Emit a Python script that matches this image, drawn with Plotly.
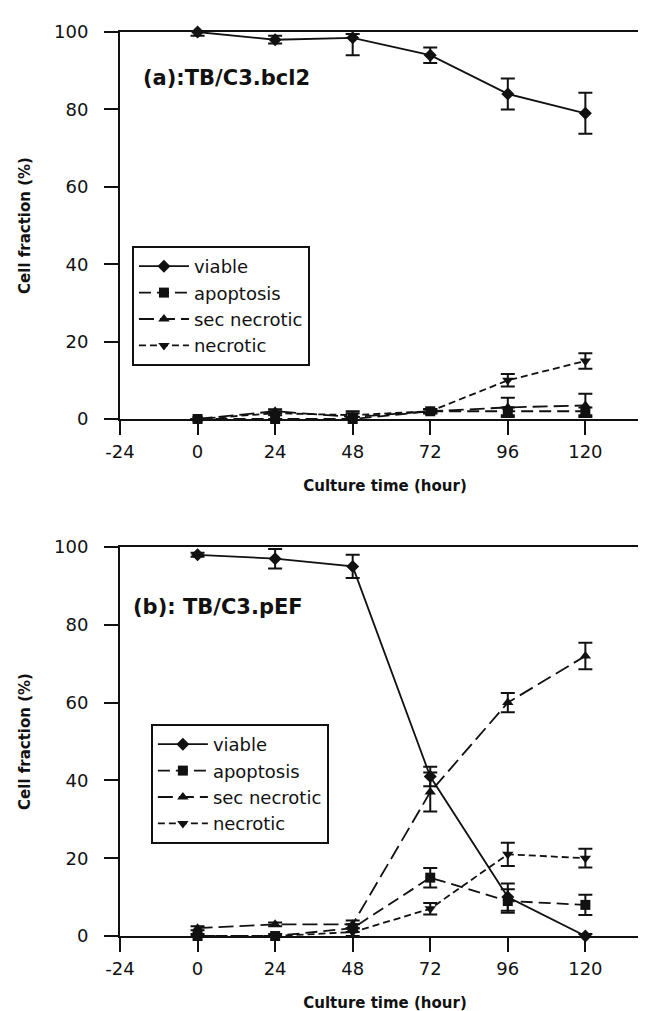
import plotly.graph_objects as go

# ---------------- data ----------------
hours = [0, 24, 48, 72, 96, 120]
series_names = ["viable", "apoptosis", "sec necrotic", "necrotic"]

# Panel (a): TB/C3.bcl2
a_viable = [100, 98, 98.5, 94, 84, 79]
a_viable_err_plus = [0.5, 1, 1, 2, 4, 5.3]
a_viable_err_minus = [1, 1, 4.5, 2, 4, 5.3]
a_apoptosis = [0, 0, 0, 2, 2, 2]
a_apoptosis_err = [0, 0, 0.5, 0.5, 1, 1]
a_secnecrotic = [0, 2, 0.5, 2, 3, 3.5]
a_secnecrotic_err = [0, 0.5, 1.5, 0.5, 2.5, 3]
a_necrotic = [0, 1.5, 1, 2, 10, 15]
a_necrotic_err = [0, 0.5, 0.5, 0.5, 1.6, 2]

# Panel (b): TB/C3.pEF
b_viable = [98, 97, 95, 41, 10, 0]
b_viable_err = [0.5, 2.5, 3, 2.5, 3.5, 0.5]
b_apoptosis = [0, 0, 2, 15, 9, 8]
b_apoptosis_err = [0, 0, 1, 2.5, 3, 2.6]
b_secnecrotic = [2, 3, 3, 37, 60, 72]
b_secnecrotic_err = [0.5, 0.5, 1, 5, 2.5, 3.4]
b_necrotic = [0, 0, 1, 7, 21, 20]
b_necrotic_err = [0.5, 0.5, 1, 1.5, 3, 2.4]

x_ticks = [-24, 0, 24, 48, 72, 96, 120]
x_ticktext = ["-24", "0", "24", "48", "72", "96", "120"]
y_ticks = [0, 20, 40, 60, 80, 100]
panel_labels = ["(a):TB/C3.bcl2", "(b): TB/C3.pEF"]
x_title = "Culture time (hour)"
y_title = "Cell fraction (%)"

# ---------------- styles ----------------
INK = "#111111"
FONT = "DejaVu Sans"
styles = {
    "viable": dict(dash="solid", symbol="diamond"),
    "apoptosis": dict(dash="12px,6px", symbol="square"),
    "sec necrotic": dict(dash="15px,6px", symbol="triangle-up"),
    "necrotic": dict(dash="7px,4px", symbol="triangle-down"),
}

fig = go.Figure()

def add_series(name, x, y, eplus, eminus, xa, ya, legend):
    st = styles[name]
    fig.add_trace(go.Scatter(
        x=x, y=y, name=name, mode="lines+markers",
        xaxis=xa, yaxis=ya, legend=legend,
        line=dict(color=INK, width=1.8, dash=st["dash"]),
        marker=dict(symbol=st["symbol"], size=10, color=INK),
        error_y=dict(type="data", symmetric=False, array=eplus, arrayminus=eminus,
                     color=INK, thickness=2, width=7),
        cliponaxis=False,
    ))

top = [
    ("viable", a_viable, a_viable_err_plus, a_viable_err_minus),
    ("apoptosis", a_apoptosis, a_apoptosis_err, a_apoptosis_err),
    ("sec necrotic", a_secnecrotic, a_secnecrotic_err, a_secnecrotic_err),
    ("necrotic", a_necrotic, a_necrotic_err, a_necrotic_err),
]
bottom = [
    ("viable", b_viable, b_viable_err, b_viable_err),
    ("apoptosis", b_apoptosis, b_apoptosis_err, b_apoptosis_err),
    ("sec necrotic", b_secnecrotic, b_secnecrotic_err, b_secnecrotic_err),
    ("necrotic", b_necrotic, b_necrotic_err, b_necrotic_err),
]
for name, y, ep, em in top:
    add_series(name, hours, y, ep, em, "x", "y", "legend")
for name, y, ep, em in bottom:
    add_series(name, hours, y, ep, em, "x2", "y2", "legend2")

# ---------------- layout ----------------
W, H = 646, 1011
ML, MR, MT, MB = 112, 2, 24, 83
plot_h = H - MT - MB
top_y0_px, top_y1_px = 411, 24
bot_y0_px, bot_y1_px = 928, 539
def yfrac(px):
    return (H - MB - px) / plot_h

tick_font = dict(family=FONT, size=18, color=INK)
title_font = dict(family=FONT, size=15, color=INK, weight="bold")

def xaxis_cfg(anchor, mirror):
    return dict(domain=[0, 1], anchor=anchor, range=[-24, 140],
                tickmode="array", tickvals=x_ticks, ticktext=x_ticktext,
                ticks="outside", ticklen=14, tickwidth=2, tickcolor=INK,
                showline=True, linewidth=2, linecolor=INK, mirror=mirror,
                showgrid=False, zeroline=False, tickfont=tick_font,
                ticklabelstandoff=1,
                title=dict(text=x_title, font=title_font, standoff=20))

def yaxis_cfg(anchor, domain, mirror):
    return dict(domain=domain, anchor=anchor, range=[0, 100],
                tickmode="array", tickvals=y_ticks,
                ticks="outside", ticklen=14, tickwidth=2, tickcolor=INK,
                showline=True, linewidth=2, linecolor=INK, mirror=mirror,
                showgrid=False, zeroline=False, tickfont=tick_font,
                ticklabelstandoff=12,
                title=dict(text=y_title, font=title_font, standoff=20))

legend_common = dict(xanchor="left", yanchor="top", bgcolor="white",
                     bordercolor=INK, borderwidth=2, itemwidth=50,
                     font=dict(family=FONT, size=18, color=INK),
                     tracegroupgap=0)

fig.update_layout(
    width=W, height=H,
    margin=dict(l=ML, r=MR, t=MT, b=MB),
    paper_bgcolor="white", plot_bgcolor="white",
    showlegend=True,
    xaxis=xaxis_cfg("y", True),
    yaxis=yaxis_cfg("x", [yfrac(top_y0_px), yfrac(top_y1_px)], False),
    xaxis2=xaxis_cfg("y2", True),
    yaxis2=yaxis_cfg("x2", [yfrac(bot_y0_px), yfrac(bot_y1_px)], True),
    legend=dict(x=(124 - ML) / (W - ML - MR), y=yfrac(238), **legend_common),
    legend2=dict(x=(143 - ML) / (W - ML - MR), y=yfrac(716), **legend_common),
    annotations=[
        dict(text=panel_labels[0], x=-17.5, y=88, xref="x", yref="y",
             xanchor="left", yanchor="middle", showarrow=False,
             font=dict(family=FONT, size=21, color=INK, weight="bold")),
        dict(text=panel_labels[1], x=-20.5, y=84.6, xref="x2", yref="y2",
             xanchor="left", yanchor="middle", showarrow=False,
             font=dict(family=FONT, size=21, color=INK, weight="bold")),
    ],
)

fig.write_html("out.html")
